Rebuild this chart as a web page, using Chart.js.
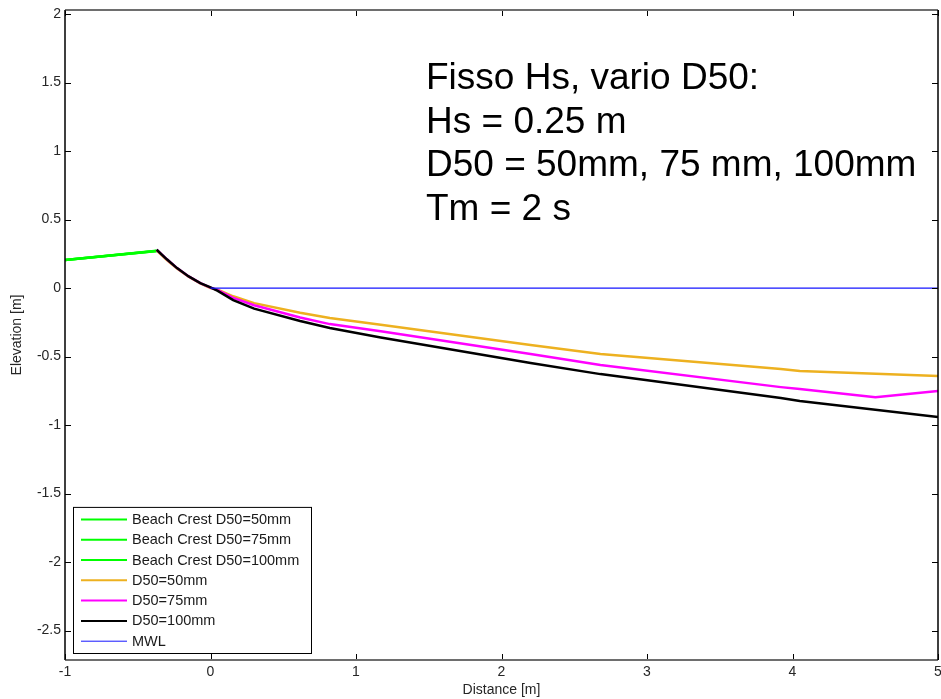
<!DOCTYPE html>
<html>
<head>
<meta charset="utf-8">
<title>Beach profile</title>
<script src="https://cdn.jsdelivr.net/npm/chart.js@4.4.1/dist/chart.umd.min.js"></script>
<style>
  body { margin: 0; background: #fff; }
  #wrap { width: 941px; height: 699px; }
</style>
</head>
<body>
<div id="wrap"><canvas id="profileChart" width="941" height="699"></canvas></div>
<script>
// beach crest (same for all three grain sizes)
const crestX = [-1, -0.37];
const crest50Y = [0.205, 0.27];
const crest75Y = [0.205, 0.27];
const crest100Y = [0.205, 0.272];

// profiles after the test, D50 = 50 / 75 / 100 mm
const d50X = [-0.37, -0.3, -0.23, -0.15, -0.07, 0, 0.05, 0.156, 0.3, 0.616, 0.82, 1.17, 2.2, 2.68, 3.92, 4.05, 5];
const d50Y = [0.275, 0.205, 0.142, 0.083, 0.035, 0.0, -0.012, -0.06, -0.11, -0.18, -0.219, -0.268, -0.416, -0.482, -0.591, -0.606, -0.642];

const d75X = [-0.37, -0.3, -0.23, -0.15, -0.07, 0, 0.05, 0.156, 0.3, 0.616, 0.82, 1.17, 2.2, 2.68, 3.92, 4.05, 4.57, 5];
const d75Y = [0.28, 0.21, 0.146, 0.085, 0.036, 0.003, -0.015, -0.072, -0.125, -0.215, -0.263, -0.315, -0.482, -0.562, -0.723, -0.737, -0.796, -0.752];

const d100X = [-0.37, -0.3, -0.23, -0.15, -0.07, 0, 0.05, 0.156, 0.3, 0.616, 0.82, 1.17, 2.2, 2.68, 3.92, 4.05, 5];
const d100Y = [0.28, 0.21, 0.146, 0.085, 0.036, 0.005, -0.02, -0.088, -0.15, -0.24, -0.292, -0.36, -0.547, -0.628, -0.803, -0.825, -0.942];

// mean water level
const mwlX = [0, 5];
const mwlY = [0, 0];

const xTicks = [-1, 0, 1, 2, 3, 4, 5];
const yTicks = [-2.5, -2, -1.5, -1, -0.5, 0, 0.5, 1, 1.5, 2];

const noteLines = [
  "Fisso Hs, vario D50:",
  "Hs = 0.25 m",
  "D50 = 50mm, 75 mm, 100mm",
  "Tm = 2 s"
];

const FONT = "'Liberation Sans', Arial, sans-serif";

function pts(xs, ys) {
  return xs.map((x, i) => ({ x: x, y: ys[i] }));
}

function line(label, xs, ys, color, width, order) {
  return {
    label: label,
    data: pts(xs, ys),
    borderColor: color,
    backgroundColor: color,
    borderWidth: width,
    pointRadius: 0,
    tension: 0,
    fill: false,
    order: order
  };
}

// MATLAB-like inward ticks and box round the axes
const axesBox = {
  id: "axesBox",
  afterDraw(chart) {
    const { ctx, chartArea: a, scales } = chart;
    ctx.save();
    ctx.strokeStyle = "#000";
    ctx.lineWidth = 1;
    const len = 6;
    xTicks.forEach(v => {
      const px = Math.round(scales.x.getPixelForValue(v)) + 0.5;
      ctx.beginPath();
      ctx.moveTo(px, a.bottom); ctx.lineTo(px, a.bottom - len);
      ctx.moveTo(px, a.top); ctx.lineTo(px, a.top + len);
      ctx.stroke();
    });
    yTicks.forEach(v => {
      const py = Math.round(scales.y.getPixelForValue(v)) + 0.5;
      ctx.beginPath();
      ctx.moveTo(a.left, py); ctx.lineTo(a.left + len, py);
      ctx.moveTo(a.right, py); ctx.lineTo(a.right - len, py);
      ctx.stroke();
    });
    ctx.lineWidth = 2;
    ctx.strokeStyle = "#6e6e6e";
    ctx.beginPath();
    ctx.moveTo(a.left, a.top); ctx.lineTo(a.right, a.top);
    ctx.moveTo(a.left, a.bottom); ctx.lineTo(a.right, a.bottom);
    ctx.stroke();
    ctx.strokeStyle = "#000";
    ctx.lineWidth = 1.5;
    ctx.beginPath();
    ctx.moveTo(a.left, a.top); ctx.lineTo(a.left, a.bottom);
    ctx.moveTo(a.right, a.top); ctx.lineTo(a.right, a.bottom);
    ctx.stroke();
    ctx.restore();
  }
};

// legend box in the lower left corner of the plot
const cornerLegend = {
  id: "cornerLegend",
  afterDatasetsDraw(chart) {
    const { ctx, chartArea: a } = chart;
    const sets = chart.data.datasets;
    const boxX = a.left + 8, boxW = 238, rowH = 20.3;
    const boxH = sets.length * rowH + 4;
    const boxY = a.bottom - 7 - boxH;
    ctx.save();
    ctx.fillStyle = "#fff";
    ctx.fillRect(boxX, boxY, boxW, boxH);
    ctx.strokeStyle = "#000";
    ctx.lineWidth = 1;
    ctx.strokeRect(boxX + 0.5, boxY + 0.5, boxW, boxH);
    ctx.font = "14.5px " + FONT;
    ctx.textBaseline = "middle";
    sets.forEach((ds, i) => {
      const cy = boxY + 12.5 + i * rowH;
      ctx.strokeStyle = ds.borderColor;
      ctx.lineWidth = ds.borderWidth > 1.5 ? 2 : 1;
      ctx.beginPath();
      ctx.moveTo(boxX + 8, cy); ctx.lineTo(boxX + 54, cy);
      ctx.stroke();
      ctx.fillStyle = "#1a1a1a";
      ctx.fillText(ds.label, boxX + 59, cy + 0.5);
    });
    ctx.restore();
  }
};

// test conditions written over the plot
const noteText = {
  id: "noteText",
  afterDraw(chart) {
    const { ctx } = chart;
    ctx.save();
    ctx.font = "37px " + FONT;
    ctx.fillStyle = "#000";
    ctx.textBaseline = "alphabetic";
    noteLines.forEach((t, i) => ctx.fillText(t, 426, 89 + i * 43.6));
    ctx.restore();
  }
};

const ctx = document.getElementById("profileChart").getContext("2d");
new Chart(ctx, {
  type: "line",
  data: {
    datasets: [
      line("Beach Crest D50=50mm", crestX, crest50Y, "#00ff00", 2.5, 6),
      line("Beach Crest D50=75mm", crestX, crest75Y, "#00ff00", 2.5, 5),
      line("Beach Crest D50=100mm", crestX, crest100Y, "#00ff00", 2.5, 4),
      line("D50=50mm", d50X, d50Y, "#edb120", 2.5, 3),
      line("D50=75mm", d75X, d75Y, "#ff00ff", 2.5, 2),
      line("D50=100mm", d100X, d100Y, "#000000", 2.5, 1),
      line("MWL", mwlX, mwlY, "#1515ff", 1.2, 0)
    ]
  },
  options: {
    responsive: false,
    animation: false,
    layout: { padding: { top: 10, right: 3, left: 0, bottom: 0 } },
    plugins: {
      legend: { display: false },
      tooltip: { enabled: false }
    },
    scales: {
      x: {
        type: "linear",
        min: -1,
        max: 5,
        afterBuildTicks: s => { s.ticks = xTicks.map(v => ({ value: v })); },
        afterFit: s => { s.height = 39; s.paddingLeft = 0; s.paddingRight = 0; },
        grid: { display: false, drawTicks: false },
        border: { display: false },
        ticks: {
          color: "#262626",
          padding: 4,
          maxRotation: 0,
          font: { family: FONT, size: 14 },
          callback: v => String(v)
        },
        title: {
          display: true,
          text: "Distance [m]",
          color: "#262626",
          font: { family: FONT, size: 14 },
          padding: { top: 0, bottom: 0 }
        }
      },
      y: {
        type: "linear",
        min: -2.715,
        max: 2.03,
        afterBuildTicks: s => { s.ticks = yTicks.map(v => ({ value: v })); },
        afterFit: s => { s.width = 65; s.paddingTop = 0; s.paddingBottom = 0; },
        grid: { display: false, drawTicks: false },
        border: { display: false },
        ticks: {
          color: "#262626",
          padding: 4,
          font: { family: FONT, size: 14 },
          callback: v => String(v)
        },
        title: {
          display: true,
          text: "Elevation [m]",
          color: "#262626",
          font: { family: FONT, size: 14 },
          padding: { top: 9, bottom: 0 }
        }
      }
    }
  },
  plugins: [axesBox, cornerLegend, noteText]
});
</script>
</body>
</html>
